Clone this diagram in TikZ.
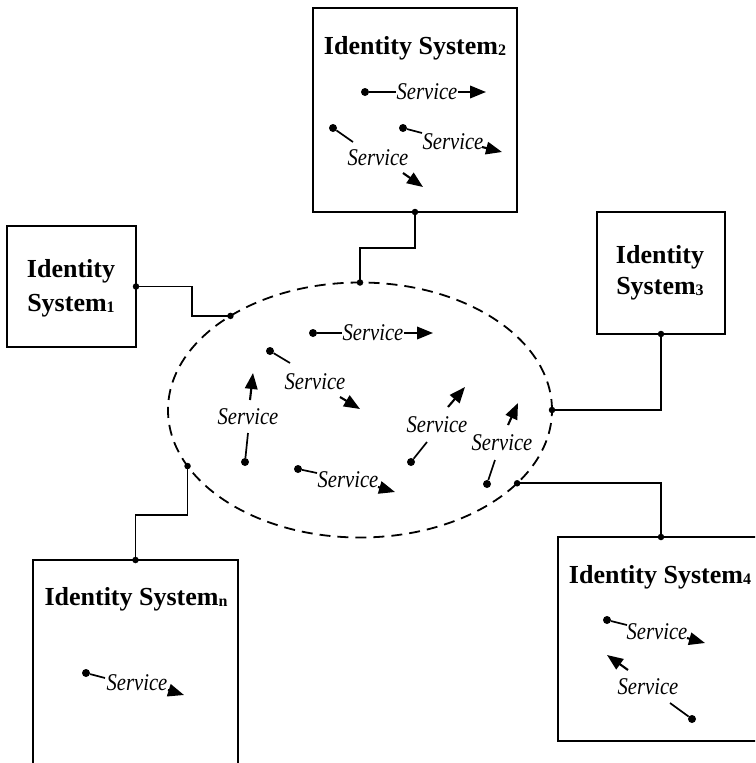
\documentclass[tikz,border=0pt]{standalone}
\usepackage{fontspec}
\setmainfont{Liberation Serif}
\usetikzlibrary{shapes.geometric,arrows.meta}

% subscript index set low beside a system name
\newcommand\sysidx[1]{\raisebox{-1.5pt}{\fontsize{16}{16}\selectfont #1}}
% narrow, tall italic service label
\newcommand\svclabel{\scalebox{0.86}[1]{Service}}

% a service drawn as dot -> stem -> label -> arrow, with free positions
% #1 name, #2 dot, #3 stem end, #4 label centre, #5 arrow start, #6 arrow end
\newcommand\servicemark[6]{%
  \node[pin] (#1d) at #2 {};
  \coordinate (#1l) at #3;
  \node[svc] (#1) at #4 {\svclabel};
  \coordinate (#1s) at #5;
  \coordinate (#1e) at #6;
  \draw[stem] (#1d) -- (#1l);
  \draw[arr] (#1s) -- (#1e);
}
% a horizontal service: the stem and the arrow meet the label itself
% #1 name, #2 dot, #3 label centre, #4 arrow end
\newcommand\servicerow[4]{%
  \node[pin] (#1d) at #2 {};
  \node[svc] (#1) at #3 {\svclabel};
  \coordinate (#1e) at #4;
  \draw[stem] (#1d) -- (#1);
  \draw[arr] (#1) -- (#1e);
}

\begin{document}
\begin{tikzpicture}[x=1pt,y=-1pt,
  box/.style={draw,line width=1.9pt,rectangle,inner sep=0pt,outer sep=0pt},
  title/.style={font=\fontsize{26}{28}\selectfont\bfseries,anchor=base,inner sep=0pt},
  svc/.style={font=\fontsize{24}{26}\selectfont\itshape,inner sep=0.3pt},
  pin/.style={circle,fill,inner sep=0pt,minimum size=8pt},
  joint/.style={circle,fill,inner sep=0pt,minimum size=6.5pt},
  wire/.style={line width=1.9pt},
  stem/.style={line width=1.7pt},
  arr/.style={line width=2.1pt,-{Triangle[length=16pt,width=12.5pt]}},
  hubline/.style={draw,dash pattern=on 11pt off 7pt,line width=1.8pt}
]
\useasboundingbox (0,0) rectangle (755,763);
\clip (0,0) rectangle (755,763);

% identity systems
\node[box,minimum width=204pt,minimum height=204pt] (b2) at (415,110) {};
\node[box,minimum width=129pt,minimum height=121pt] (b1) at (71.5,286.5) {};
\node[box,minimum width=128pt,minimum height=122pt] (b3) at (661,273) {};
\node[box,minimum width=206pt,minimum height=204pt] (b4) at (661,639) {};
\node[box,minimum width=205pt,minimum height=240pt] (bn) at (135.5,680) {};

% shared service space
\node[hubline,ellipse,minimum width=384pt,minimum height=255pt,inner sep=0pt,outer sep=0pt] (hub) at (360,410) {};

% titles
\node[title] (t2) at (415,54) {Identity System\sysidx{2}};
\node[title] (t1a) at (71,277) {Identity};
\node[title] (t1b) at (71,311) {System\sysidx{1}};
\node[title] (t3a) at (660,263) {Identity};
\node[title] (t3b) at (660,294) {System\sysidx{3}};
\node[title] (t4) at (660,583) {Identity System\sysidx{4}};
\node[title] (tn) at (136,605) {Identity System\sysidx{n}};

% links between the systems and the service space
\draw[wire] (b1.east) -- ++(56,0) |- (hub.144);
\draw[wire] (b2.south) -- ++(0,36) -| (hub.90);
\draw[wire] (b3.south) |- (hub.0);
\draw[wire] (hub.335) -| (b4.north);
\draw[wire] (hub.198) -- ++(0,49) -| (bn.north);
\foreach \p in {b1.east,hub.144,b2.south,hub.90,b3.south,hub.0,hub.335,b4.north,hub.198,bn.north}
  \node[joint] at (\p) {};

% services in the shared space
\servicerow{h1}{(313,333)}{(373,333)}{(433,333)}
\servicemark{h2}{(270,351)}{(290,363)}{(315,382)}{(340,397)}{(360,409)}
\servicemark{h3}{(245,462)}{(248,433)}{(248,417)}{(250,400)}{(253,373)}
\servicemark{h4}{(298,469)}{(317,473)}{(348,480)}{(378,487)}{(395,492)}
\servicemark{h5}{(411,462)}{(427,442)}{(437,425)}{(448,407)}{(465,387)}
\servicemark{h6}{(487,484)}{(495,460)}{(502,443)}{(508,425)}{(518,403)}

% services of system 2
\servicerow{s21}{(365,92)}{(427,92)}{(486,92)}
\servicemark{s22}{(333,128)}{(353,142)}{(378,158)}{(403,173)}{(423,187)}
\servicemark{s23}{(403,128)}{(422,133)}{(453,142)}{(482,147)}{(502,152)}

% services of system 4
\servicemark{s41}{(607,620)}{(627,625)}{(657,632)}{(687,638)}{(705,643)}
\servicemark{s42}{(692,719)}{(670,703)}{(648,687)}{(628,670)}{(607,655)}

% service of system n
\servicemark{sn1}{(86,673)}{(105,678)}{(137,683)}{(168,690)}{(184,695)}
\end{tikzpicture}
\end{document}
